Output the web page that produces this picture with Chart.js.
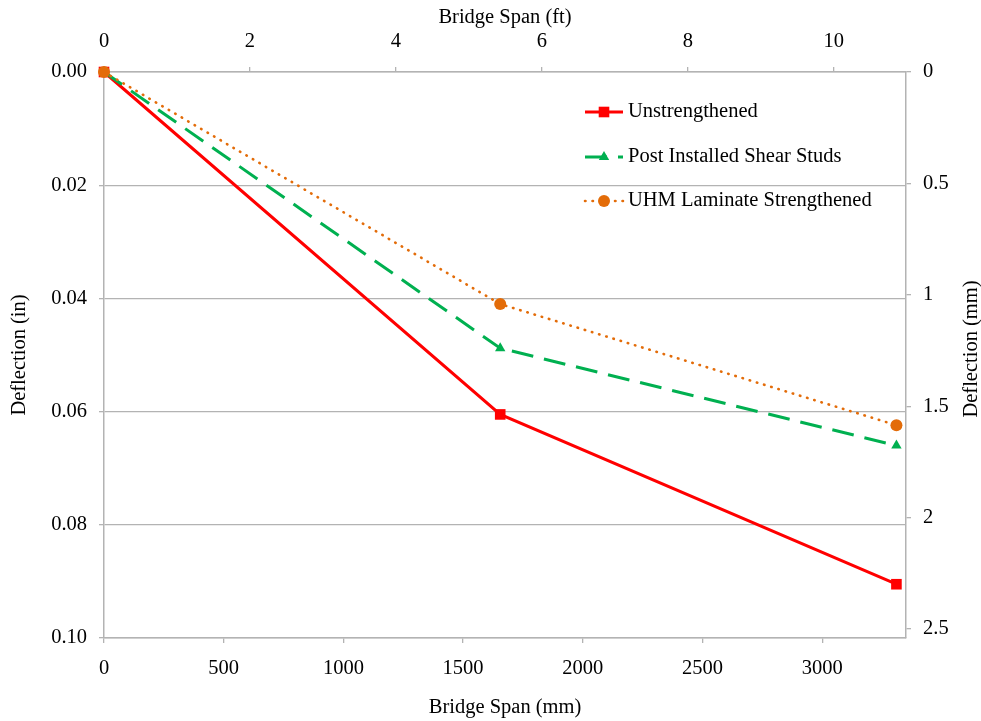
<!DOCTYPE html>
<html>
<head>
<meta charset="utf-8">
<script src="https://cdn.jsdelivr.net/npm/chart.js@4.4.0/dist/chart.umd.min.js"></script>
<style>
  html, body { margin: 0; padding: 0; background: #fff; }
  #wrap { width: 981px; height: 721px; }
</style>
</head>
<body>
<div id="wrap"><canvas id="myChart"></canvas></div>
<script>
// data
const spanMm = [0, 1655, 3310];
const unstrengthened = [0, 0.0605, 0.0905];
const shearStuds = [0, 0.0488, 0.066];
const uhmLaminate = [0, 0.041, 0.0624];
const seriesNames = ["Unstrengthened", "Post Installed Shear Studs", "UHM Laminate Strengthened"];

// tick labels
const mmTicks = [0, 500, 1000, 1500, 2000, 2500, 3000];
const ftTicks = [0, 2, 4, 6, 8, 10];
const inTicks = [0, 0.02, 0.04, 0.06, 0.08, 0.1];
const mmDeflTicks = [0, 0.5, 1, 1.5, 2, 2.5];

const spanMaxMm = 3350;
const deflMaxIn = 0.1;
const MM_PER_FT = 304.8;
const MM_PER_IN = 25.4;

const FONT = { family: '"Liberation Serif", "Times New Roman", serif', size: 20.5 };
const GRAY = "#b3b3b3";
const TEXT = "#000";
const rightTitle = "Deflection (mm)";

const toPoints = (ys) => spanMm.map((x, i) => ({ x: x, y: ys[i] }));
const setTicks = (values) => (scale) => {
  scale.ticks = values.map((v) => ({ value: v }));
};

const datasets = [
  {
    label: seriesNames[0],
    data: toPoints(unstrengthened),
    borderColor: "#ff0000",
    backgroundColor: "#ff0000",
    borderWidth: 3,
    pointStyle: "rect",
    pointRadius: 7.5,
    pointBorderWidth: 0,
    order: 3,
  },
  {
    label: seriesNames[1],
    data: toPoints(shearStuds),
    borderColor: "#00b050",
    backgroundColor: "#00b050",
    borderWidth: 3,
    borderDash: [22, 11],
    pointStyle: "triangle",
    pointRadius: 6,
    pointBorderWidth: 0,
    order: 2,
  },
  {
    label: seriesNames[2],
    data: toPoints(uhmLaminate),
    borderColor: "#e36c09",
    backgroundColor: "#e36c09",
    borderWidth: 2.6,
    borderDash: [0.5, 7],
    borderCapStyle: "round",
    pointStyle: "circle",
    pointRadius: 6,
    pointBorderWidth: 0,
    order: 1,
  },
];
datasets.forEach((ds) => {
  ds.tension = 0;
  ds.clip = false;
  ds.pointHoverRadius = ds.pointRadius;
});

// legend drawn inside the plot, line sample with marker in the middle
const legendInPlot = {
  id: "legendInPlot",
  afterDatasetsDraw(chart) {
    const { ctx, chartArea } = chart;
    const x0 = chartArea.left + 481;
    const x1 = x0 + 38;
    const rowY = [40, 85, 129];
    datasets.forEach((ds, i) => {
      const y = chartArea.top + rowY[i];
      ctx.save();
      ctx.strokeStyle = ds.borderColor;
      ctx.fillStyle = ds.backgroundColor;
      ctx.lineWidth = ds.borderWidth;
      ctx.lineCap = ds.borderCapStyle || "butt";
      ctx.setLineDash(ds.borderDash || []);
      ctx.beginPath();
      ctx.moveTo(x0, y);
      ctx.lineTo(x1, y);
      ctx.stroke();
      ctx.setLineDash([]);
      Chart.helpers.drawPoint(
        ctx,
        { pointStyle: ds.pointStyle, radius: ds.pointRadius, rotation: 0, borderWidth: 0 },
        (x0 + x1) / 2,
        y
      );
      ctx.fillStyle = TEXT;
      ctx.font = `${FONT.size}px ${FONT.family}`;
      ctx.textBaseline = "middle";
      ctx.textAlign = "left";
      ctx.fillText(ds.label, x1 + 5, y);
      ctx.restore();
    });
  },
};

// right axis title reads bottom to top, like the left one
const rightAxisTitle = {
  id: "rightAxisTitle",
  afterDraw(chart) {
    const { ctx, chartArea } = chart;
    ctx.save();
    ctx.translate(chart.width - 9, (chartArea.top + chartArea.bottom) / 2 - 6);
    ctx.rotate(-Math.PI / 2);
    ctx.fillStyle = TEXT;
    ctx.font = `${FONT.size}px ${FONT.family}`;
    ctx.textAlign = "center";
    ctx.textBaseline = "middle";
    ctx.fillText(rightTitle, 0, 0);
    ctx.restore();
  },
};

const axisTitle = (text, padding) => ({
  display: true,
  text: text,
  color: TEXT,
  font: FONT,
  padding: padding,
});

new Chart(document.getElementById("myChart"), {
  type: "line",
  data: { datasets: datasets },
  options: {
    responsive: true,
    maintainAspectRatio: false,
    animation: false,
    events: [],
    layout: { padding: 0, autoPadding: false },
    plugins: { legend: { display: false }, tooltip: { enabled: false } },
    scales: {
      x: {
        type: "linear",
        position: "bottom",
        min: 0,
        max: spanMaxMm,
        afterBuildTicks: setTicks(mmTicks),
        afterFit: (s) => { s.height = 83; },
        grid: { drawOnChartArea: false, color: GRAY, lineWidth: 1.3, tickLength: 5 },
        border: { color: GRAY, width: 1.5 },
        ticks: { color: TEXT, font: FONT, padding: 13, autoSkip: false, maxRotation: 0, callback: (v) => String(v) },
        title: axisTitle("Bridge Span (mm)", { top: 0, bottom: 1 }),
      },
      x2: {
        type: "linear",
        position: "top",
        min: 0,
        max: spanMaxMm / MM_PER_FT,
        afterBuildTicks: setTicks(ftTicks),
        afterFit: (s) => { s.height = 72; },
        grid: { drawOnChartArea: false, color: GRAY, lineWidth: 1.3, tickLength: 5 },
        border: { color: GRAY, width: 1.5 },
        ticks: { color: TEXT, font: FONT, padding: 13, autoSkip: false, maxRotation: 0, callback: (v) => String(v) },
        title: axisTitle("Bridge Span (ft)", { top: 5, bottom: 0 }),
      },
      y: {
        type: "linear",
        position: "left",
        reverse: true,
        min: 0,
        max: deflMaxIn,
        afterBuildTicks: setTicks(inTicks),
        afterFit: (s) => { s.width = 104; },
        grid: { color: GRAY, lineWidth: 1.3, tickLength: 5 },
        border: { color: GRAY, width: 1.5 },
        ticks: { color: TEXT, font: FONT, padding: 12, autoSkip: false, callback: (v) => v.toFixed(2) },
        title: axisTitle("Deflection (in)", { top: 7, bottom: 0 }),
      },
      y2: {
        type: "linear",
        position: "right",
        reverse: true,
        min: 0,
        max: deflMaxIn * MM_PER_IN,
        afterBuildTicks: setTicks(mmDeflTicks),
        afterFit: (s) => { s.width = 75; },
        grid: { drawOnChartArea: false, color: GRAY, lineWidth: 1.3, tickLength: 5 },
        border: { color: GRAY, width: 1.5 },
        ticks: { color: TEXT, font: FONT, padding: 12, autoSkip: false, callback: (v) => String(v) },
        title: { display: false },
      },
    },
  },
  plugins: [legendInPlot, rightAxisTitle],
});
</script>
</body>
</html>
